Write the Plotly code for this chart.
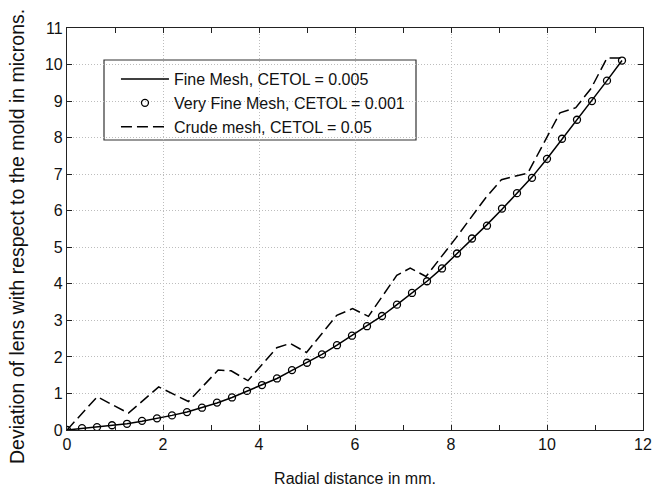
import plotly.graph_objects as go

# Very fine mesh (circles) and fine mesh (solid line) sample positions
fine_x = [0.0, 0.3125, 0.625, 0.9375, 1.25, 1.5625, 1.875, 2.1875, 2.5, 2.8125,
          3.125, 3.4375, 3.75, 4.0625, 4.375, 4.6875, 5.0, 5.3125, 5.625, 5.9375,
          6.25, 6.5625, 6.875, 7.1875, 7.5, 7.8125, 8.125, 8.4375, 8.75, 9.0625,
          9.375, 9.6875, 10.0, 10.3125, 10.625, 10.9375, 11.25, 11.5625]
fine_y = [0.0, 0.04, 0.07, 0.11, 0.17, 0.24, 0.31, 0.40, 0.49, 0.61,
          0.74, 0.89, 1.06, 1.23, 1.41, 1.63, 1.84, 2.07, 2.32, 2.58,
          2.84, 3.12, 3.43, 3.75, 4.07, 4.43, 4.82, 5.22, 5.62, 6.04,
          6.47, 6.92, 7.42, 7.95, 8.48, 9.01, 9.56, 10.11]
very_fine_y = [0.0, 0.05, 0.08, 0.13, 0.17, 0.25, 0.32, 0.40, 0.49, 0.61,
               0.75, 0.89, 1.07, 1.23, 1.41, 1.64, 1.84, 2.07, 2.32, 2.58,
               2.84, 3.12, 3.43, 3.75, 4.07, 4.42, 4.83, 5.24, 5.59, 6.06,
               6.48, 6.90, 7.42, 7.97, 8.49, 9.00, 9.56, 10.11]

# Crude mesh (dashed line)
crude_x = [0.0, 0.63, 1.28, 1.91, 2.53, 3.15, 3.42, 3.77, 4.37, 4.65, 4.99,
           5.62, 5.95, 6.28, 6.87, 7.15, 7.48, 8.1, 8.72, 9.05, 9.6,
           10.27, 10.6, 10.92, 11.25, 11.55]
crude_y = [0.0, 0.91, 0.46, 1.18, 0.78, 1.64, 1.62, 1.35, 2.25, 2.37, 2.12,
           3.14, 3.32, 3.11, 4.23, 4.43, 4.20, 5.25, 6.35, 6.85, 7.03,
           8.68, 8.82, 9.35, 10.18, 10.18]

x_ticks = [0, 2, 4, 6, 8, 10, 12]
y_ticks = list(range(0, 12))

names = ["Fine Mesh, CETOL = 0.005", "Very Fine Mesh, CETOL = 0.001",
         "Crude mesh, CETOL = 0.05"]
x_title = "Radial distance in mm."
y_title = "Deviation of lens with respect to the mold in microns."

fig = go.Figure()
fig.add_trace(go.Scatter(x=fine_x, y=fine_y, mode="lines", name=names[0],
                         line=dict(color="black", width=1.5)))
fig.add_trace(go.Scatter(x=fine_x, y=very_fine_y, mode="markers", name=names[1],
                         marker=dict(symbol="circle-open", size=7, color="black",
                                     line=dict(width=1.3))))
fig.add_trace(go.Scatter(x=crude_x, y=crude_y, mode="lines", name=names[2],
                         line=dict(color="black", width=1.5, dash="11px,5px")))

font = "Liberation Sans, Arial, sans-serif"
axis_common = dict(
    showline=True, linecolor="#222", linewidth=1.2, mirror="ticks",
    ticks="inside", ticklen=5, tickcolor="#222", tickwidth=1,
    showgrid=True, gridcolor="#bdbdbd", griddash="1px,2px", gridwidth=1,
    zeroline=False, automargin=False,
    tickfont=dict(size=16, color="#111", family=font),
)

fig.update_xaxes(range=[0, 12], tickvals=x_ticks,
                 minor=dict(dtick=1, tick0=0, ticks="inside", ticklen=5,
                            tickcolor="#222", showgrid=False),
                 title=dict(text=x_title,
                            font=dict(size=16, color="#111", family=font), standoff=20),
                 **axis_common)
fig.update_yaxes(range=[0, 11], tickvals=y_ticks, **axis_common)

# y-axis title as rotated text
fig.add_annotation(text=y_title, xref="paper", yref="paper",
                   x=(17 - 67) / 576, y=(430 - 237) / 402,
                   xanchor="center", yanchor="middle", textangle=-90,
                   showarrow=False, font=dict(size=19.5, color="#111", family=font))

# legend frame
fig.add_shape(type="rect", xref="paper", yref="paper",
              x0=(104 - 67) / 576, x1=(416 - 67) / 576,
              y0=(430 - 140) / 402, y1=(430 - 60) / 402,
              line=dict(color="#333", width=1.2), fillcolor="white", layer="below")

fig.update_layout(
    width=652, height=492,
    margin=dict(l=67, r=9, t=28, b=62),
    paper_bgcolor="white", plot_bgcolor="white",
    font=dict(family=font, color="#111"),
    legend=dict(x=0.085, y=0.915, xanchor="left", yanchor="top",
                bgcolor="rgba(0,0,0,0)", borderwidth=0,
                font=dict(size=16, color="#111", family=font),
                tracegroupgap=0, itemwidth=48),
    showlegend=True,
)

fig.write_html("out.html", config={"displayModeBar": False},
               post_script="document.body.style.margin='0';document.body.style.overflow='hidden';")
